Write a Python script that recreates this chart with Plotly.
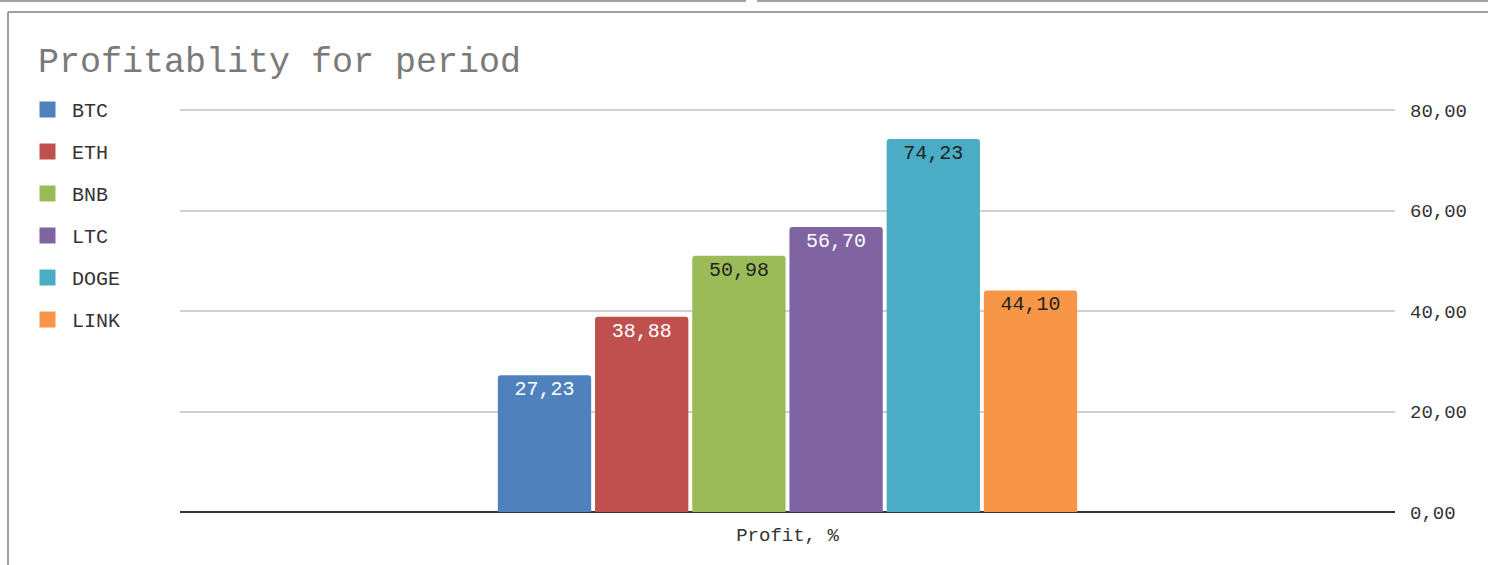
import plotly.graph_objects as go

categories = ["Profit, %"]
coins = ["BTC", "ETH", "BNB", "LTC", "DOGE", "LINK"]
profits = [27.23, 38.88, 50.98, 56.70, 74.23, 44.10]
colors = ["#4F81BD", "#C0504D", "#9BBB59", "#8064A2", "#4BACC6", "#F79646"]
label_colors = ["#ffffff", "#ffffff", "#222222", "#ffffff", "#222222", "#222222"]
y_ticks = [0, 20, 40, 60, 80]

FONT = "Liberation Mono, Courier New, monospace"
W, H = 1488, 565
L, R, T, B = 180, 93, 105, 53
PW, PH = W - L - R, H - T - B
Y_TOP = PH / (402 / 80)


def px(x):
    return (x - L) / PW


def py(y):
    return (H - B - y) / PH


fig = go.Figure()
for i, (c, v) in enumerate(zip(coins, profits)):
    fig.add_trace(go.Bar(
        x=categories, y=[v], name=c, marker=dict(color=colors[i], line=dict(width=0)),
        texttemplate="%{y:.2f}", textposition="inside", insidetextanchor="end",
        textfont=dict(family=FONT, size=20, color=label_colors[i]),
        showlegend=False, hoverinfo="skip",
    ))
for i, c in enumerate(coins):
    fig.add_trace(go.Scatter(
        x=[None], y=[None], mode="markers", name=c, legendgroup=c,
        marker=dict(symbol="square", size=20, color=colors[i]),
        showlegend=True,
    ))

line = dict(color="#a0a0a0", width=2)
shapes = [
    dict(type="line", xref="paper", yref="paper", x0=px(0), x1=px(746), y0=py(1), y1=py(1), line=line),
    dict(type="line", xref="paper", yref="paper", x0=px(757), x1=px(1488), y0=py(1), y1=py(1), line=line),
    dict(type="line", xref="paper", yref="paper", x0=px(8), x1=px(1488), y0=py(12), y1=py(12), line=line),
    dict(type="line", xref="paper", yref="paper", x0=px(8), x1=px(8), y0=py(12), y1=py(565), line=line),
]

fig.update_layout(
    width=W, height=H,
    margin=dict(l=L, r=R, t=T, b=B),
    paper_bgcolor="white", plot_bgcolor="white",
    separators=", ",
    barmode="group", bargap=0.52, bargroupgap=0.04, barcornerradius=3,
    title=dict(text="Profitablity for period", x=38 / W, xref="container", xanchor="left",
               y=1 - 60 / H, yref="container", yanchor="middle",
               font=dict(family=FONT, size=35, color="#7a7a7a")),
    font=dict(family=FONT, size=19, color="#333333"),
    legend=dict(x=px(23), y=py(90), xanchor="left", yanchor="top",
                font=dict(family=FONT, size=20, color="#333333"),
                itemwidth=39,
                tracegroupgap=13, bgcolor="rgba(0,0,0,0)"),
    xaxis=dict(type="category", showgrid=False, showline=False, ticks="",
               tickfont=dict(family=FONT, size=19, color="#333333"), ticklabelstandoff=9),
    yaxis=dict(side="right", range=[0, Y_TOP], tickvals=y_ticks, tickformat=".2f",
               showgrid=True, gridcolor="#d0d0d0", gridwidth=1.5,
               zeroline=True, zerolinecolor="#333333", zerolinewidth=2,
               showline=False, ticks="", ticklabelstandoff=14,
               tickfont=dict(family=FONT, size=19, color="#333333")),
    shapes=shapes,
)

fig.write_html("out.html", config={"displayModeBar": False},
               post_script="document.body.style.margin='0';")
